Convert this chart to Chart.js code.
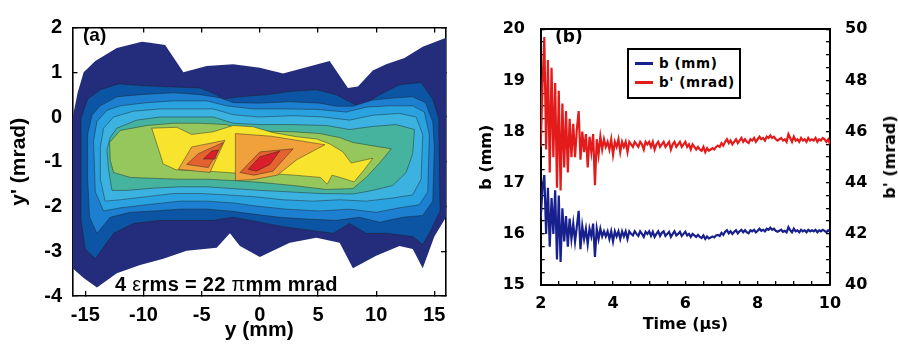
<!DOCTYPE html>
<html><head><meta charset="utf-8">
<script src="https://cdn.jsdelivr.net/npm/chart.js@4.4.1/dist/chart.umd.min.js"></script>
<style>
body{margin:0;width:898px;height:345px;background:#fff;position:relative;overflow:hidden}
.abs{position:absolute;white-space:nowrap;color:#000}
</style></head><body>
<div class="abs" style="left:0;top:0;width:460px;height:345px"><canvas id="ca" width="460" height="345"></canvas></div>
<div class="abs" style="left:460px;top:0;width:438px;height:345px"><canvas id="cb" width="438" height="345"></canvas></div>
<div class="abs" style="left:83px;top:25px;font:bold 19px/19px 'Liberation Sans',Arial,sans-serif">(a)</div>
<div class="abs" style="left:115px;top:274px;font:bold 20px/20px 'Liberation Sans',Arial,sans-serif;letter-spacing:0.3px">4 <span style="font-weight:normal">ε</span>rms = 22 <span style="font-weight:normal">π</span>mm mrad</div>
<div class="abs" style="left:555px;top:28px;font:bold 17px/17px 'DejaVu Sans',Verdana,sans-serif">(b)</div>
<div class="abs" style="left:890px;top:157px;transform:translate(-50%,-50%) rotate(-90deg);font:bold 16px/16px 'DejaVu Sans',Verdana,sans-serif">b' (mrad)</div>
<div id="leg" class="abs" style="left:627px;top:48px;width:114px;height:51px;box-sizing:border-box;border:2px solid #000;background:#fff;font:bold 13.5px/16px 'DejaVu Sans',Verdana,sans-serif"></div>
<script>
// ---------- panel (a): contour levels (outer -> inner), points are [y (mm), y' (mrad)]
const levelColors = ['#242c7c','#0c54a4','#1c7fd0','#2aa2df','#3bb2e0','#45b39e','#96c75d','#f8e42c','#f0a13c','#e3622f','#d91f2a','#f0a13c','#e3622f','#d91f2a'];
const lvNavy = [[-16.1,-0.03],[-15.66,0.54],[-15.14,1.0],[-14.14,1.25],[-12.29,1.54],[-10.14,1.68],[-9.43,1.66],[-8.14,1.61],[-6.57,1.0],[-4.57,1.14],[-2.29,1.18],[0,1.1],[2,0.97],[4,1.11],[6,1.25],[7.57,0.65],[8.43,0.68],[9.71,1.04],[10.86,1.18],[12.43,1.32],[14,1.57],[16,1.77],[16,-2.24],[15,-2.67],[14,-3.38],[13.14,-2.95],[12,-2.88],[10,-3.1],[8,-3.38],[6.86,-2.81],[4.86,-2.7],[2.57,-2.81],[0,-3.13],[-1.71,-2.88],[-2.57,-2.6],[-3.71,-2.92],[-6.29,-2.99],[-8.29,-3.17],[-10.29,-3.31],[-12.29,-3.49],[-14,-3.81],[-15.14,-3.6],[-16.1,-3.38]];
const lvDarkBlue = [[-15.37,-0.03],[-14.8,0.4],[-13.71,0.61],[-12.14,0.74],[-10,0.7],[-7.43,0.67],[-5.14,0.65],[-3.71,0.5],[-3.29,0.4],[-1.71,0.45],[0.57,0.5],[2.57,0.57],[4.86,0.61],[6.57,0.5],[8.57,0.22],[10.29,0.5],[12,0.72],[13.86,0.77],[14.86,0.4],[15.37,-0.03],[15.49,-2.1],[14.57,-2.6],[14,-2.85],[13.14,-2.67],[10.86,-2.6],[9.14,-2.6],[7.71,-2.38],[6.29,-2.6],[4.29,-2.53],[2,-2.45],[0,-2.35],[-2.29,-2.24],[-4,-2.31],[-6.29,-2.31],[-8.57,-2.31],[-10.86,-2.38],[-12.57,-2.6],[-14.14,-3.17],[-15,-2.95],[-15.37,-2.31]];
const lvBlue = [[-14.8,-0.39],[-14.43,0.04],[-13.71,0.25],[-12.29,0.45],[-10.29,0.5],[-7.43,0.54],[-5.14,0.5],[-3.43,0.43],[-2.29,0.32],[0,0.31],[2.57,0.34],[5.14,0.31],[6.57,0.24],[8,0.24],[9.71,0.38],[11.71,0.43],[13.14,0.45],[14.23,0.32],[14.86,-0.1],[15,-0.67],[14.86,-1.88],[14,-2.2],[12.29,-2.24],[10.29,-2.35],[8.57,-2.24],[6.57,-2.31],[4,-2.28],[1.71,-2.24],[-0.57,-2.17],[-2.57,-2.1],[-4.57,-2.06],[-6.86,-2.06],[-9.14,-2.1],[-11.14,-2.13],[-12.86,-2.24],[-14,-2.6],[-14.63,-2.24],[-14.8,-1.39]];
const lvLightBlue = [[-14.29,-0.53],[-14,-0.1],[-13.14,0.15],[-12,0.25],[-9.71,0.32],[-7.43,0.36],[-4.57,0.36],[-2.86,0.25],[-0.57,0.18],[2.29,0.18],[4.86,0.17],[7.43,0.11],[9.14,0.22],[11.14,0.25],[13.14,0.25],[14.14,0.11],[14.57,-0.39],[14.43,-1.67],[13.71,-1.96],[12,-2.03],[10,-2.13],[7.71,-2.06],[5.14,-2.1],[2.29,-2.06],[-0.29,-1.99],[-2.29,-1.92],[-4.57,-1.88],[-6.86,-1.88],[-9.71,-1.96],[-12,-2.03],[-13.43,-2.1],[-14.14,-1.67]];
const lvCyan = [[-13.71,-0.67],[-13.43,-0.25],[-12.57,0],[-10.86,0.13],[-8.57,0.18],[-6.29,0.18],[-4,0.18],[-2.29,0.05],[0,0],[2.86,0.03],[5.43,0],[7.71,-0.07],[9.71,0.04],[12,0.08],[13.43,0],[14,-0.39],[13.86,-1.39],[13.14,-1.74],[11.43,-1.81],[9.14,-1.88],[6.86,-1.85],[4.57,-1.88],[2,-1.85],[-0.57,-1.78],[-2.86,-1.74],[-5.14,-1.71],[-7.43,-1.71],[-9.71,-1.78],[-12,-1.85],[-13.29,-1.88],[-13.71,-1.39]];
const lvTeal = [[-13.14,-0.74],[-12.86,-0.46],[-12.29,-0.25],[-10.57,-0.07],[-8.57,0],[-6.29,0],[-4,0],[-2.29,-0.14],[0,-0.17],[2.86,-0.17],[5.71,-0.19],[7.71,-0.28],[9.71,-0.21],[11.71,-0.17],[13.29,-0.28],[13.14,-0.82],[12.57,-1.24],[11.43,-1.53],[9.71,-1.64],[8,-1.72],[5.14,-1.71],[2.29,-1.67],[0,-1.64],[-2.29,-1.6],[-4.57,-1.56],[-6.86,-1.56],[-9.14,-1.59],[-11.43,-1.64],[-12.71,-1.64],[-13,-1.17]];
const lvGreen = [[-12.91,-0.57],[-12,-0.3],[-9.71,-0.19],[-7.43,-0.14],[-5.14,-0.14],[-2.86,-0.17],[-1.71,-0.28],[0.57,-0.32],[2.86,-0.33],[5.14,-0.37],[6.86,-0.46],[8,-0.57],[9.14,-0.62],[11.29,-0.71],[10.29,-1.03],[9.14,-1.35],[8,-1.6],[5.71,-1.62],[2.86,-1.53],[0,-1.46],[-2.29,-1.42],[-4.57,-1.39],[-6.86,-1.39],[-9.14,-1.37],[-11.14,-1.35],[-12.57,-1.24],[-12.86,-0.96]];
const lvYellow = [[-9.29,-0.25],[-7.14,-0.23],[-5.86,-0.39],[-4,-0.33],[-2.29,-0.19],[-0.57,-0.22],[1.14,-0.35],[3.14,-0.44],[4.86,-0.49],[6,-0.6],[7.14,-0.78],[7.86,-1.03],[9.71,-0.92],[9,-1.17],[8.1,-1.45],[6.9,-1.35],[6.2,-1.3],[5.8,-1.5],[5.2,-1.35],[3,-1.3],[0,-1.25],[-2.3,-1.25],[-5,-1.2],[-7.2,-1.18],[-8.3,-1.05]];
const lvOrangeL = [[-7,-1.17],[-5.86,-0.67],[-3,-0.52],[-4.29,-1.24]];
const lvDarkOrangeL = [[-6.29,-1.06],[-5.29,-0.82],[-3.14,-0.57],[-4.43,-1.13]];
const lvRedL = [[-4.86,-0.94],[-4.14,-0.76],[-3.57,-0.74],[-3.86,-0.94]];
const lvOrangeR = [[-2.1,-0.37],[1,-0.43],[5.6,-0.62],[3.2,-0.95],[1.5,-1.3],[-0.6,-1.4],[-2.1,-1.42]];
const lvDarkOrangeR = [[-1.71,-1.24],[0,-0.78],[2.86,-0.71],[1.14,-1.21],[-0.5,-1.3]];
const lvRedR = [[-1,-1.17],[0,-0.89],[1.71,-0.76],[0.86,-1.06],[-0.29,-1.21]];
const levels = [lvNavy,lvDarkBlue,lvBlue,lvLightBlue,lvCyan,lvTeal,lvGreen,lvYellow,lvOrangeL,lvDarkOrangeL,lvRedL,lvOrangeR,lvDarkOrangeR,lvRedR];
const xTicksA = [-15,-10,-5,0,5,10,15];
const yTicksA = [-4,-3,-2,-1,0,1,2];

// ---------- panel (b): time series
const times = [2,2.05,2.1,2.15,2.2,2.25,2.3,2.35,2.4,2.45,2.5,2.55,2.6,2.65,2.7,2.75,2.8,2.85,2.9,2.95,3,3.05,3.1,3.15,3.2,3.25,3.3,3.35,3.4,3.45,3.5,3.55,3.6,3.65,3.7,3.75,3.8,3.85,3.9,3.95,4,4.05,4.1,4.15,4.2,4.25,4.3,4.35,4.4,4.45,4.5,4.55,4.6,4.65,4.7,4.75,4.8,4.85,4.9,4.95,5,5.05,5.1,5.15,5.2,5.25,5.3,5.35,5.4,5.45,5.5,5.55,5.6,5.65,5.7,5.75,5.8,5.85,5.9,5.95,6,6.05,6.1,6.15,6.2,6.25,6.3,6.35,6.4,6.45,6.5,6.55,6.6,6.65,6.7,6.75,6.8,6.85,6.9,6.95,7,7.05,7.1,7.15,7.2,7.25,7.3,7.35,7.4,7.45,7.5,7.55,7.6,7.65,7.7,7.75,7.8,7.85,7.9,7.95,8,8.05,8.1,8.15,8.2,8.25,8.3,8.35,8.4,8.45,8.5,8.55,8.6,8.65,8.7,8.75,8.8,8.85,8.9,8.95,9,9.05,9.1,9.15,9.2,9.25,9.3,9.35,9.4,9.45,9.5,9.55,9.6,9.65,9.7,9.75,9.8,9.85,9.9,9.95,10];
const bMM = [16.3,16.9,17.15,16.0,16.9,15.75,16.7,16.0,16.85,15.5,
16.75,15.45,16.5,15.85,16.35,15.75,16.3,15.9,16.2,15.85,
16.15,16.45,15.7,16.15,15.9,16.1,15.8,16.1,15.95,16.2,
15.55,16.1,15.9,16.1,15.95,16.05,15.95,16.05,15.9,16.05,
15.85,16.05,15.95,16.05,15.9,16.05,15.95,16.05,15.9,16.05,
16.0,15.97,16.05,16.0,15.96,16.05,16.0,15.94,16.04,16.0,
16.05,15.96,16.04,15.94,16.0,16.05,15.96,16.02,16.05,15.96,
16.0,16.04,15.94,16.0,16.05,15.97,16.0,16.04,15.96,16.0,
16.04,15.97,16.0,15.94,16.0,15.97,15.94,15.98,15.94,15.92,
15.97,15.9,15.95,15.91,15.93,15.95,15.93,15.97,15.98,15.96,
16.02,15.98,16.04,16.07,16.01,16.05,16.0,16.04,16.07,16.01,
16.05,16.08,16.03,16.07,16.03,16.01,16.07,16.05,16.08,16.03,
16.06,16.1,16.06,16.08,16.05,16.1,16.08,16.12,16.08,16.1,
16.06,16.04,16.06,16.08,16.04,16.06,16.03,16.13,16.07,16.03,
16.1,16.05,16.07,16.03,16.08,16.05,16.07,16.03,16.08,16.05,
16.07,16.05,16.08,16.03,16.07,16.05,16.08,16.06,16.03,16.07,
16.04];
const bMrad = [45.4,47.8,49.7,45.3,48.8,44.4,48.5,45.0,47.9,43.8,
47.6,43.7,47.1,44.6,46.8,44.4,46.5,45.0,46.3,45.0,
46.1,46.8,44.9,46.0,45.2,45.9,44.6,45.8,45.2,45.9,
43.9,45.7,45.1,45.8,45.3,45.7,45.4,45.6,45.3,45.7,
45.1,45.6,45.4,45.7,45.2,45.6,45.4,45.6,45.2,45.6,
45.5,45.4,45.6,45.5,45.4,45.6,45.5,45.3,45.6,45.5,
45.6,45.4,45.6,45.3,45.5,45.6,45.4,45.5,45.6,45.4,
45.5,45.6,45.3,45.5,45.6,45.4,45.5,45.6,45.4,45.5,
45.6,45.4,45.5,45.3,45.5,45.4,45.3,45.4,45.3,45.25,
45.4,45.2,45.35,45.25,45.3,45.35,45.3,45.4,45.45,45.4,
45.55,45.45,45.6,45.7,45.55,45.65,45.5,45.6,45.7,45.55,
45.65,45.75,45.6,45.7,45.6,45.55,45.7,45.65,45.75,45.6,
45.7,45.8,45.7,45.75,45.65,45.8,45.75,45.85,45.75,45.8,
45.7,45.65,45.7,45.75,45.65,45.7,45.6,45.9,45.75,45.6,
45.8,45.65,45.7,45.6,45.75,45.65,45.7,45.6,45.75,45.65,
45.7,45.65,45.75,45.6,45.7,45.65,45.75,45.7,45.6,45.7,
45.5];
const seriesNames = ['b (mm)', "b' (mrad)"];
const seriesColors = ['#17208c', '#e41b1b'];
const xTicksB = [2,2.5,3,3.5,4,4.5,5,5.5,6,6.5,7,7.5,8,8.5,9,9.5,10];
const xLabelsB = [2,4,6,8,10];
const yTicksB = [15,15.25,15.5,15.75,16,16.25,16.5,16.75,17,17.25,17.5,17.75,18,18.25,18.5,18.75,19,19.25,19.5,19.75,20];
const yLabelsB = [15,16,17,18,19,20];
const y2TicksB = [40,40.5,41,41.5,42,42.5,43,43.5,44,44.5,45,45.5,46,46.5,47,47.5,48,48.5,49,49.5,50];
const y2LabelsB = [40,42,44,46,48,50];

// ---------- helpers
const fA = (size) => ({family:"'Liberation Sans', Arial, sans-serif", size, weight:'bold'});
const fB = (size) => ({family:"'DejaVu Sans', Verdana, sans-serif", size, weight:'bold'});
const setTicks = (arr) => (s) => { s.ticks = arr.map(v => ({value:v})); };

// ---------- chart (a)
const dsA = levels.map((pts, i) => ({
  label: 'level ' + i,
  data: pts.concat([pts[0]]).map(p => ({x:p[0], y:p[1]})),
  showLine: true, fill: 'shape', tension: 0,
  backgroundColor: levelColors[i],
  borderColor: i === 0 ? levelColors[0] : 'rgba(30,30,30,0.55)',
  borderWidth: i === 0 ? 0 : 0.8,
  pointRadius: 0, order: levels.length - i
}));
const gridA = {drawOnChartArea:false, tickLength:-5, color:'#000', lineWidth:1.3};
const borderA = {display:true, color:'#000', width:1.6};
new Chart(document.getElementById('ca'), {
  type:'scatter',
  data:{datasets:dsA},
  options:{
    responsive:false, animation:false, events:[],
    layout:{padding:{top:15, right:14, left:0, bottom:0}},
    plugins:{legend:{display:false}, tooltip:{enabled:false}},
    scales:{
      x:{type:'linear', position:'bottom', min:-16.1, max:16, z:1,
        afterBuildTicks:setTicks(xTicksA), afterFit:s=>{s.height=49;},
        grid:gridA, border:borderA,
        ticks:{font:fA(20), color:'#000', padding:12, maxRotation:0, autoSkip:false},
        title:{display:true, text:'y (mm)', font:fA(21), color:'#000', padding:{top:0,bottom:2}}},
      y:{type:'linear', position:'left', min:-4, max:2, z:1,
        afterBuildTicks:setTicks(yTicksA), afterFit:s=>{s.width=72.5;},
        grid:gridA, border:borderA,
        ticks:{font:fA(20), color:'#000', padding:15.5, autoSkip:false},
        title:{display:true, text:"y' (mrad)", font:fA(21), color:'#000', padding:{top:7,bottom:0}}},
      x2:{type:'linear', position:'top', min:-16.1, max:16, z:1,
        afterBuildTicks:setTicks(xTicksA), afterFit:s=>{s.height=0;},
        grid:gridA, border:borderA, ticks:{display:false}},
      y2:{type:'linear', position:'right', min:-4, max:2, z:1,
        afterBuildTicks:setTicks(yTicksA), afterFit:s=>{s.width=0;},
        grid:gridA, border:borderA, ticks:{display:false}}
    }
  }
});

// ---------- chart (b)
const gridB = {drawOnChartArea:false, tickLength:-4, color:'#000', lineWidth:1.3};
const borderB = {display:true, color:'#000', width:2};
new Chart(document.getElementById('cb'), {
  type:'scatter',
  data:{datasets:[
    {label:seriesNames[0], data:times.map((t,i)=>({x:t, y:bMM[i]})), yAxisID:'y', showLine:true, borderColor:seriesColors[0], backgroundColor:seriesColors[0], borderWidth:2.2, pointRadius:0, tension:0},
    {label:seriesNames[1], data:times.map((t,i)=>({x:t, y:bMrad[i]})), yAxisID:'y2', showLine:true, borderColor:seriesColors[1], backgroundColor:seriesColors[1], borderWidth:2.2, pointRadius:0, tension:0}
  ]},
  options:{
    responsive:false, animation:false, events:[],
    layout:{padding:{top:17, right:0, left:0, bottom:0}},
    plugins:{legend:{display:false}, tooltip:{enabled:false}},
    scales:{
      x:{type:'linear', position:'bottom', min:2, max:10, z:1,
        afterBuildTicks:setTicks(xTicksB), afterFit:s=>{s.height=60;},
        grid:gridB, border:borderB,
        ticks:{font:fB(16), color:'#000', padding:13, maxRotation:0, autoSkip:false,
          callback:v => xLabelsB.includes(v) ? String(v) : ''},
        title:{display:true, text:'Time (μs)', font:fB(16), color:'#000', padding:{top:0,bottom:11}}},
      y:{type:'linear', position:'left', min:15, max:20, z:1,
        afterBuildTicks:setTicks(yTicksB), afterFit:s=>{s.width=80.7;},
        grid:gridB, border:borderB,
        ticks:{font:fB(16), color:'#000', padding:19.7, autoSkip:false,
          callback:v => yLabelsB.includes(v) ? String(v) : ''},
        title:{display:true, text:'b (mm)', font:fB(16), color:'#000', padding:{top:17,bottom:0}}},
      y2:{type:'linear', position:'right', min:40, max:50, z:1,
        afterBuildTicks:setTicks(y2TicksB), afterFit:s=>{s.width=68;},
        grid:gridB, border:borderB,
        ticks:{font:fB(16), color:'#000', padding:19, autoSkip:false,
          callback:v => y2LabelsB.includes(v) ? String(v) : ''}},
      x2:{type:'linear', position:'top', min:2, max:10, z:1,
        afterFit:s=>{s.height=0;},
        grid:{display:true, drawOnChartArea:false, drawTicks:false, color:'#000'}, border:borderB, ticks:{display:false}}
    }
  }
});

// ---------- legend for (b)
const leg = document.getElementById('leg');
seriesNames.forEach((name, i) => {
  const line = document.createElement('span');
  line.style.cssText = 'position:absolute;left:6px;width:18px;height:3px;top:' + (11.5 + i*19) + 'px;background:' + seriesColors[i];
  const txt = document.createElement('span');
  txt.style.cssText = 'position:absolute;left:30px;top:' + (5 + i*19) + 'px;letter-spacing:0.6px';
  txt.textContent = name;
  leg.appendChild(line); leg.appendChild(txt);
});
</script>
</body></html>
